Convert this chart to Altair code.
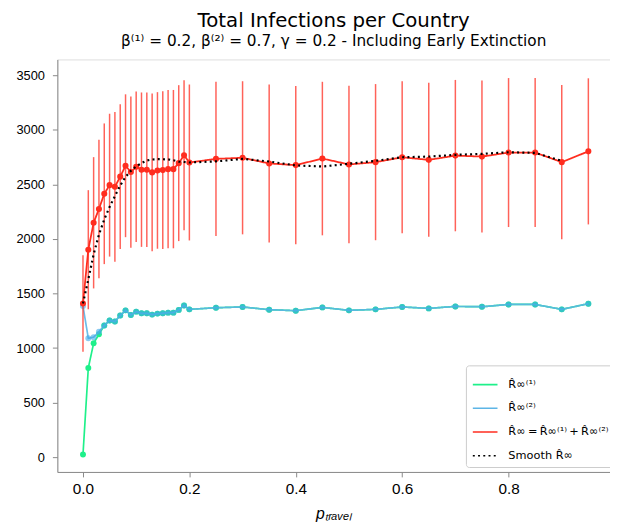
import altair as alt
import pandas as pd

# ---------------- data ----------------
p_travel = [0.00, 0.01, 0.02, 0.03, 0.04, 0.05, 0.06, 0.07, 0.08, 0.09, 0.10,
            0.11, 0.12, 0.13, 0.14, 0.15, 0.16, 0.17, 0.18, 0.19, 0.20,
            0.25, 0.30, 0.35, 0.40, 0.45, 0.50, 0.55, 0.60, 0.65, 0.70,
            0.75, 0.80, 0.85, 0.90, 0.95]

total = [1409, 1902, 2149, 2276, 2415, 2494, 2479, 2572, 2672, 2614, 2663,
         2636, 2636, 2611, 2629, 2632, 2641, 2641, 2696, 2768, 2702,
         2735, 2745, 2693, 2678, 2738, 2684, 2705, 2750, 2726, 2765,
         2756, 2793, 2793, 2705, 2804]

total_std = [443, 546, 602, 635, 645, 655, 687, 663, 655, 693, 690,
             708, 708, 723, 718, 723, 725, 726, 715, 687, 715,
             707, 702, 725, 725, 704, 722, 716, 697, 706, 694,
             697, 683, 683, 707, 670]

r1 = [24, 818, 1044, 1126, 1207, 1253, 1244, 1298, 1346, 1304, 1334,
      1319, 1319, 1307, 1316, 1319, 1325, 1325, 1350, 1391, 1355,
      1370, 1377, 1352, 1343, 1373, 1346, 1355, 1377, 1364, 1382,
      1379, 1400, 1400, 1355, 1407]

r2 = [1385, 1090, 1100, 1150, 1207, 1253, 1244, 1298, 1346, 1304, 1334,
      1319, 1319, 1307, 1316, 1319, 1325, 1325, 1350, 1391, 1355,
      1370, 1377, 1352, 1343, 1373, 1346, 1355, 1377, 1364, 1382,
      1379, 1400, 1400, 1355, 1407]

smooth = [1409, 1630, 1860, 2040, 2180, 2294, 2394, 2490, 2570, 2625, 2666,
          2696, 2720, 2729, 2732, 2732, 2730, 2722, 2710, 2706, 2702,
          2712, 2735, 2711, 2675, 2665, 2690, 2717, 2750, 2756, 2772,
          2781, 2796, 2790, 2717]

labels = ["R\u0302\u221e\u207d\u00b9\u207e",
          "R\u0302\u221e\u207d\u00b2\u207e",
          "R\u0302\u221e\u2009=\u2009R\u0302\u221e\u207d\u00b9\u207e\u2009+\u2009R\u0302\u221e\u207d\u00b2\u207e",
          "Smooth R\u0302\u221e"]
colors = ["#1ef08a", "#5db5e6", "#ff2d1f", "#000000"]
dashes = [[1, 0], [1, 0], [1, 0], [2, 3.3]]

# ---------------- tables ----------------
rows = []
for lab, ys in zip(labels[:3], [r1, r2, total]):
    for x, y in zip(p_travel, ys):
        rows.append({"series": lab, "p": x, "v": y})
for x, y in zip(p_travel, smooth):
    rows.append({"series": labels[3], "p": x, "v": y})
lines_df = pd.DataFrame(rows)

err_df = pd.DataFrame({"p": p_travel,
                       "lo": [m - s for m, s in zip(total, total_std)],
                       "hi": [m + s for m, s in zip(total, total_std)]})

W, H = 560, 418
xscale = alt.Scale(domain=[-0.0482, 0.9907], nice=False, zero=False)
yscale = alt.Scale(domain=[-136, 3647], nice=False, zero=False)

xax = alt.Axis(values=[0, 0.2, 0.4, 0.6, 0.8], format=".1f",
               title="p\u209c\u1d63\u2090\u1d65\u2091\u2097",
               titleFontStyle="italic", titleFontWeight="normal",
               titleFontSize=16, titlePadding=9,
               labelFontSize=15.5, labelPadding=5, tickSize=5,
               grid=False)
yax = alt.Axis(values=[0, 500, 1000, 1500, 2000, 2500, 3000, 3500], format="d",
               title=None, labelFontSize=13, labelPadding=8, tickSize=5,
               grid=False)

X = alt.X("p:Q", scale=xscale, axis=xax)
Y = alt.Y("v:Q", scale=yscale, axis=yax)

leg = alt.Legend(title=None, orient="none", legendX=414, legendY=310,
                 symbolType="stroke", symbolSize=625, symbolStrokeWidth=1.6,
                 labelFontSize=11.5, labelFont="DejaVu Sans", labelColor="black",
                 padding=6, rowPadding=5, labelOffset=10,
                 strokeColor="#cccccc", cornerRadius=3, fillColor="white")

color = alt.Color("series:N", scale=alt.Scale(domain=labels, range=colors), legend=leg)
dash = alt.StrokeDash("series:N", scale=alt.Scale(domain=labels, range=dashes), legend=leg)

base = alt.Chart(lines_df)


def line(lab, width, opacity=1.0):
    return base.transform_filter(alt.datum.series == lab).mark_line(
        strokeWidth=width, opacity=opacity
    ).encode(x=X, y=Y, color=color, strokeDash=dash)


def pts(lab, col, opacity=1.0, size=36):
    return base.transform_filter(alt.datum.series == lab).mark_circle(
        size=size, opacity=opacity
    ).encode(x=X, y=Y, color=alt.value(col))


errbars = alt.Chart(err_df).mark_rule(strokeWidth=1.5, opacity=0.8, color="#ff3b2f").encode(
    x=alt.X("p:Q", scale=xscale, axis=xax),
    y=alt.Y("lo:Q", scale=yscale, axis=yax),
    y2="hi:Q")

chart = alt.layer(
    line(labels[0], 1.7),
    pts(labels[0], colors[0]),
    line(labels[1], 1.7, 0.9),
    pts(labels[1], "#3fa9e8", 0.6),
    errbars,
    line(labels[2], 1.8),
    pts(labels[2], colors[2], size=38),
    line(labels[3], 2.2),
).properties(
    width=W, height=H,
    autosize=alt.AutoSizeParams(type="none"),
    padding={"left": 50, "top": 48.7, "right": 0, "bottom": 48},
    title=alt.Title("Total Infections per Country",
                    subtitle="\u03b2\u207d\u00b9\u207e =  0.2, \u03b2\u207d\u00b2\u207e = 0.7, \u03b3 = 0.2 - Including Early Extinction",
                    fontSize=20, subtitleFontSize=15.5, font="DejaVu Sans",
                    subtitleFont="DejaVu Sans", fontWeight="normal",
                    color="black", subtitleColor="black", anchor="middle",
                    offset=10, subtitlePadding=3),
).configure_view(
    stroke="black", strokeWidth=1
).configure_axis(
    labelFont="DejaVu Sans", titleFont="DejaVu Sans",
    labelColor="black", titleColor="black",
    domainColor="black", tickColor="black", domainWidth=1, tickWidth=1
).configure(background="white")

chart.save("out.html", embed_options={"renderer": "svg", "actions": False})
